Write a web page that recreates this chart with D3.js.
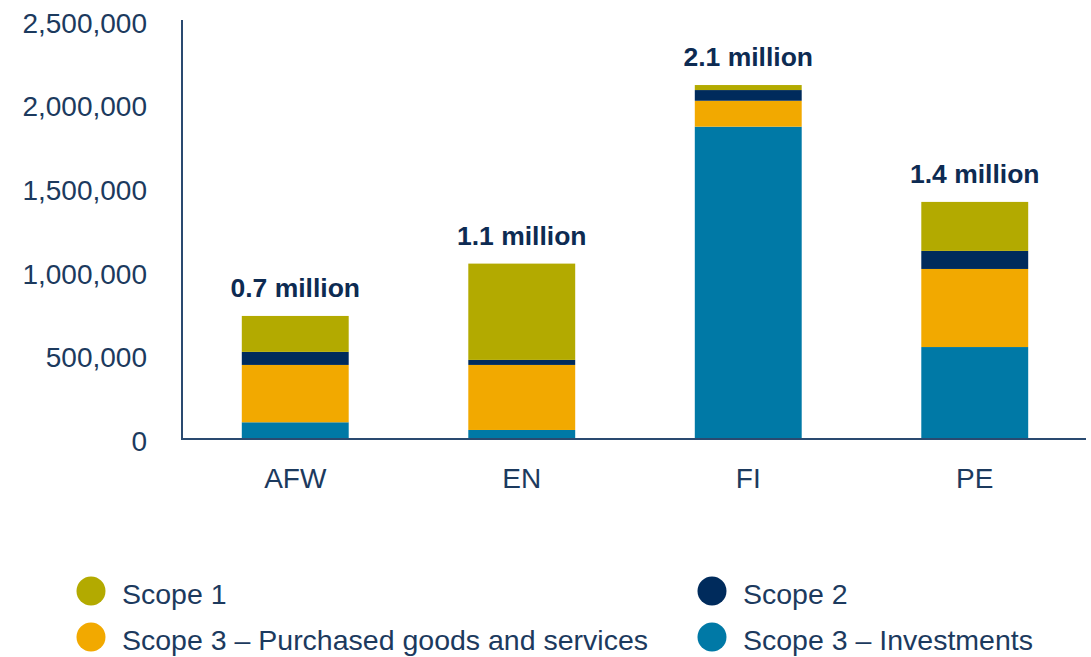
<!DOCTYPE html>
<html>
<head>
<meta charset="utf-8">
<script src="https://cdn.jsdelivr.net/npm/d3@7"></script>
<style>
	body { margin: 0; background: #fff; }
	text { font-family: "Liberation Sans", Arial, sans-serif; }
</style>
</head>
<body>
<div id="chart"></div>
<script>
// chart values
var categories = ["AFW", "EN", "FI", "PE"];
var scope1 = [215000, 576000, 30000, 293000];
var scope2 = [78000, 30000, 64000, 108000];
var scope3Purchased = [343000, 389000, 155000, 467000];
var scope3Investments = [100000, 54000, 1868000, 550000];
var totalLabels = ["0.7 million", "1.1 million", "2.1 million", "1.4 million"];
var yTicks = [0, 500000, 1000000, 1500000, 2000000, 2500000];
var seriesKeys = ["inv", "pur", "s2", "s1"]; // bottom to top
var seriesNames = ["Scope 3 \u2013 Investments", "Scope 3 \u2013 Purchased goods and services", "Scope 2", "Scope 1"];

(function() {
	var width = 1091;
	var height = 657;
	var colors = { s1: "#b3aa00", s2: "#002b5c", pur: "#f2a900", inv: "#0079a6" };
	var textColor = "#1c3a5e";

	var svg = d3.select("#chart")
		.append("svg")
		.attr("width", width)
		.attr("height", height);

	var rows = categories.map(function(c, i) {
		return { cat: c, inv: scope3Investments[i], pur: scope3Purchased[i], s2: scope2[i], s1: scope1[i] };
	});
	var stacked = d3.stack().keys(seriesKeys)(rows);

	var x = d3.scaleBand()
		.domain(categories)
		.range([182, 1088])
		.paddingInner(0.528)
		.paddingOuter(0.264);
	var y = d3.scaleLinear()
		.domain([0, 2500000])
		.range([439, 21]);

	// bars
	svg.append("g").selectAll("g")
		.data(stacked)
		.enter()
		.append("g")
		.attr("fill", function(d) { return colors[d.key]; })
		.selectAll("rect")
		.data(function(d) { return d; })
		.enter()
		.append("rect")
		.attr("x", function(d) { return x(d.data.cat); })
		.attr("width", x.bandwidth())
		.attr("y", function(d) { return y(d[1]); })
		.attr("height", function(d) { return y(d[0]) - y(d[1]); });

	// y axis, no ticks, just labels and the line
	var yAxis = svg.append("g")
		.attr("transform", "translate(147,0)")
		.call(d3.axisLeft(y).tickValues(yTicks).tickSize(0).tickPadding(0)
			.tickFormat(d3.format(",")));
	yAxis.select(".domain").remove();
	yAxis.selectAll("text")
		.attr("fill", textColor)
		.attr("font-size", "28px")
		.attr("dy", "0.4em");

	svg.append("line")
		.attr("x1", 182).attr("x2", 182)
		.attr("y1", 20).attr("y2", y(0))
		.attr("stroke", "#2a4a70")
		.attr("stroke-width", 2);
	svg.append("line")
		.attr("x1", 181).attr("x2", 1086)
		.attr("y1", y(0)).attr("y2", y(0))
		.attr("stroke", "#2a4a70")
		.attr("stroke-width", 2);

	// category labels
	var xAxis = svg.append("g")
		.attr("transform", "translate(0," + y(0) + ")")
		.call(d3.axisBottom(x).tickSize(0).tickPadding(0));
	xAxis.select(".domain").remove();
	xAxis.selectAll("text")
		.attr("fill", textColor)
		.attr("font-size", "28px")
		.attr("y", 49)
		.attr("dy", 0);

	// totals above the bars
	svg.append("g").selectAll("text")
		.data(rows)
		.enter()
		.append("text")
		.attr("x", function(d) { return x(d.cat) + x.bandwidth() / 2; })
		.attr("y", function(d, i) { return y(d.inv + d.pur + d.s2 + d.s1) - 19; })
		.attr("text-anchor", "middle")
		.attr("font-size", "26.5px")
		.attr("font-weight", "bold")
		.attr("fill", "#0d2b52")
		.text(function(d, i) { return totalLabels[i]; });

	// legend
	var legendOrder = ["s1", "s2", "pur", "inv"];
	var legend = svg.append("g").selectAll("g")
		.data(legendOrder)
		.enter()
		.append("g")
		.attr("transform", function(d, i) {
			return "translate(" + (i % 2 == 0 ? 91 : 712) + "," + (591 + Math.floor(i / 2) * 46) + ")";
		});
	legend.append("circle")
		.attr("r", 14.5)
		.attr("fill", function(d) { return colors[d]; });
	legend.append("text")
		.attr("x", 31)
		.attr("y", 13)
		.attr("font-size", "28.5px")
		.attr("fill", textColor)
		.text(function(d) { return seriesNames[seriesKeys.indexOf(d)]; });
})();
</script>
</body>
</html>
